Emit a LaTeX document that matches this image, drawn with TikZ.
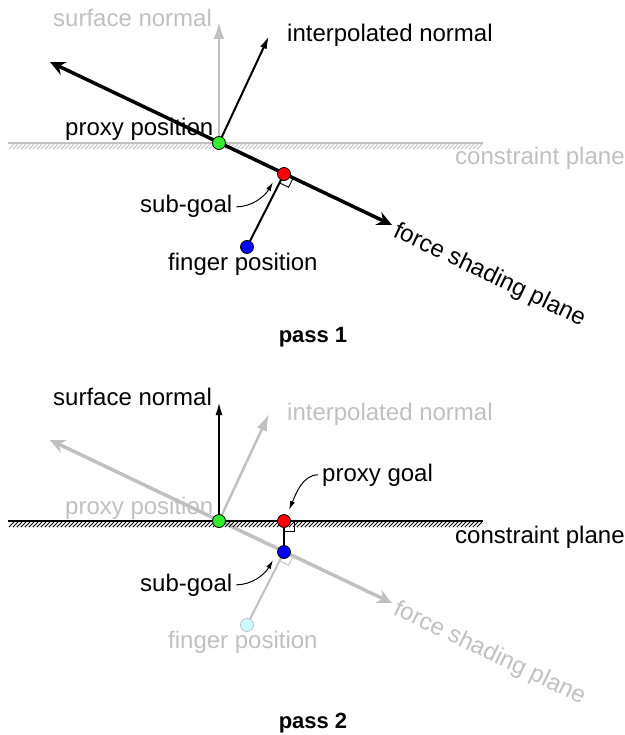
\documentclass[tikz,border=0pt]{standalone}
\usepackage{fontspec}
\setmainfont{Liberation Sans}
\usetikzlibrary{arrows.meta,calc}
\definecolor{lg}{HTML}{C0C0C0}
\definecolor{lcyan}{HTML}{C8FFFF}
\definecolor{dgreen}{HTML}{30F030}
\begin{document}
\begin{tikzpicture}[x=1pt,y=-1pt,
  txt/.style={font=\fontsize{24}{28}\selectfont, inner sep=0pt, anchor=base west},
  ttl/.style={font=\bfseries\fontsize{22}{26}\selectfont, inner sep=0pt, anchor=base},
  forcearr/.style={line width=3.5pt, {Stealth[length=15pt,width=14pt,inset=5pt]}-{Stealth[length=15pt,width=14pt,inset=5pt]}},
  normarr/.style={line width=2pt, -{Latex[length=13pt,width=7pt]}},
  graynorm/.style={lg, line width=2.5pt, -{Latex[length=17pt,width=11pt]}},
  perpline/.style={line width=2pt},
  pointer/.style={line width=1pt, -{Latex[length=9pt,width=5pt]}},
  plane/.style={line width=2pt},
  hatch/.style={line width=0.8pt},
  ramark/.style={line width=0.9pt},
  dot/.style={circle, draw=black, line width=0.8pt, minimum size=13pt, inner sep=0pt}]
\useasboundingbox (0,0) rectangle (624,735);

% ---------------- pass 1 ----------------
\coordinate (G1) at (219,143);
\coordinate (R1) at (284,174);
\coordinate (B1) at (247,247);
\coordinate (L1) at (50,62);
\coordinate (F1) at (392,225);
\coordinate (SN1) at (219,22);
\coordinate (IN1) at (269,36);
\coordinate (PA1) at (8,143);
\coordinate (PB1) at (483,143);
\coordinate (T1) at (273,182);

\draw[plane, lg] (PA1) -- (PB1);
\foreach \x in {9,13,...,479} \draw[hatch, lg] (\x,149) -- (\x+5,144);

\node[txt, lg] (sn1) at (53,27) {surface normal};
\node[txt] (in1) at (287,42) {interpolated normal};
\node[txt] (pp1) at (65,136) {proxy position};
\node[txt, lg] (cp1) at (455,165) {constraint plane};
\node[txt] (sg1) at (140,213) {sub-goal};
\node[txt] (fp1) at (168,270) {finger position};
\node[txt, rotate=-25.5] (fs1) at (392,236) {force shading plane};
\node[ttl] (pass1) at (313,342) {pass 1};

\draw[graynorm] (G1) -- (SN1);
\draw[normarr] (G1) -- (IN1);
\draw[forcearr] (L1) -- (F1);
\draw[perpline] (R1) -- (B1);
\coordinate (ra1) at ($(R1)!10pt!(B1)$);
\coordinate (rb1) at ($(R1)!10pt!(F1)$);
\draw[ramark] (ra1) -- ($(ra1)+(rb1)-(R1)$) -- (rb1);
\draw[pointer] ([xshift=4pt]sg1.east) .. controls +(16,0) and +(-8,14) .. (T1);

\node[dot, fill=dgreen] (g1) at (G1) {};
\node[dot, fill=red] (r1) at (R1) {};
\node[dot, fill=blue] (b1) at (B1) {};

% ---------------- pass 2 ----------------
\coordinate (G2) at (219,521);
\coordinate (R2) at (284,521);
\coordinate (B2) at (284,552);
\coordinate (Fi2) at (247,625);
\coordinate (L2) at (50,440);
\coordinate (F2) at (392,603);
\coordinate (SN2) at (219,402);
\coordinate (IN2) at (269,414);
\coordinate (PA2) at (8,521);
\coordinate (PB2) at (483,521);
\coordinate (T2) at (273,560);
\coordinate (T3) at (289,510);

\node[txt] (sn2) at (53,405) {surface normal};
\node[txt, lg] (in2) at (287,420) {interpolated normal};
\node[txt, lg] (pp2) at (65,514) {proxy position};
\node[txt] (cp2) at (455,543) {constraint plane};
\node[txt] (sg2) at (140,591) {sub-goal};
\node[txt] (pg2) at (322,481) {proxy goal};
\node[txt, lg] (fp2) at (168,648) {finger position};
\node[txt, lg, rotate=-25.5] (fs2) at (392,614) {force shading plane};
\node[ttl] (pass2) at (313,728) {pass 2};

\draw[graynorm] (G2) -- (IN2);
\draw[forcearr, lg] (L2) -- (F2);
\draw[perpline, lg] (B2) -- (Fi2);
\coordinate (ra3) at ($(B2)!10pt!(Fi2)$);
\coordinate (rb3) at ($(B2)!10pt!(F2)$);
\draw[ramark, lg] (ra3) -- ($(ra3)+(rb3)-(B2)$) -- (rb3);

\draw[plane] (PA2) -- (PB2);
\foreach \x in {9,13,...,479} \draw[hatch] (\x,527) -- (\x+5,522);
\draw[normarr] (G2) -- (SN2);
\draw[perpline] (R2) -- (B2);
\coordinate (ra2) at ($(R2)!10pt!(B2)$);
\coordinate (rb2) at ($(R2)!10pt!(PB2)$);
\draw[ramark] (ra2) -- ($(ra2)+(rb2)-(R2)$) -- (rb2);
\draw[pointer] ([xshift=4pt]sg2.east) .. controls +(16,0) and +(-8,14) .. (T2);
\draw[pointer] ([xshift=-4pt]pg2.west) .. controls +(-16,0) and +(6,-14) .. (T3);

\node[dot, fill=dgreen] (g2) at (G2) {};
\node[dot, fill=red] (r2) at (R2) {};
\node[dot, fill=blue] (b2) at (B2) {};
\node[dot, fill=lcyan, draw=lg] (fi2) at (Fi2) {};
\end{tikzpicture}
\end{document}
